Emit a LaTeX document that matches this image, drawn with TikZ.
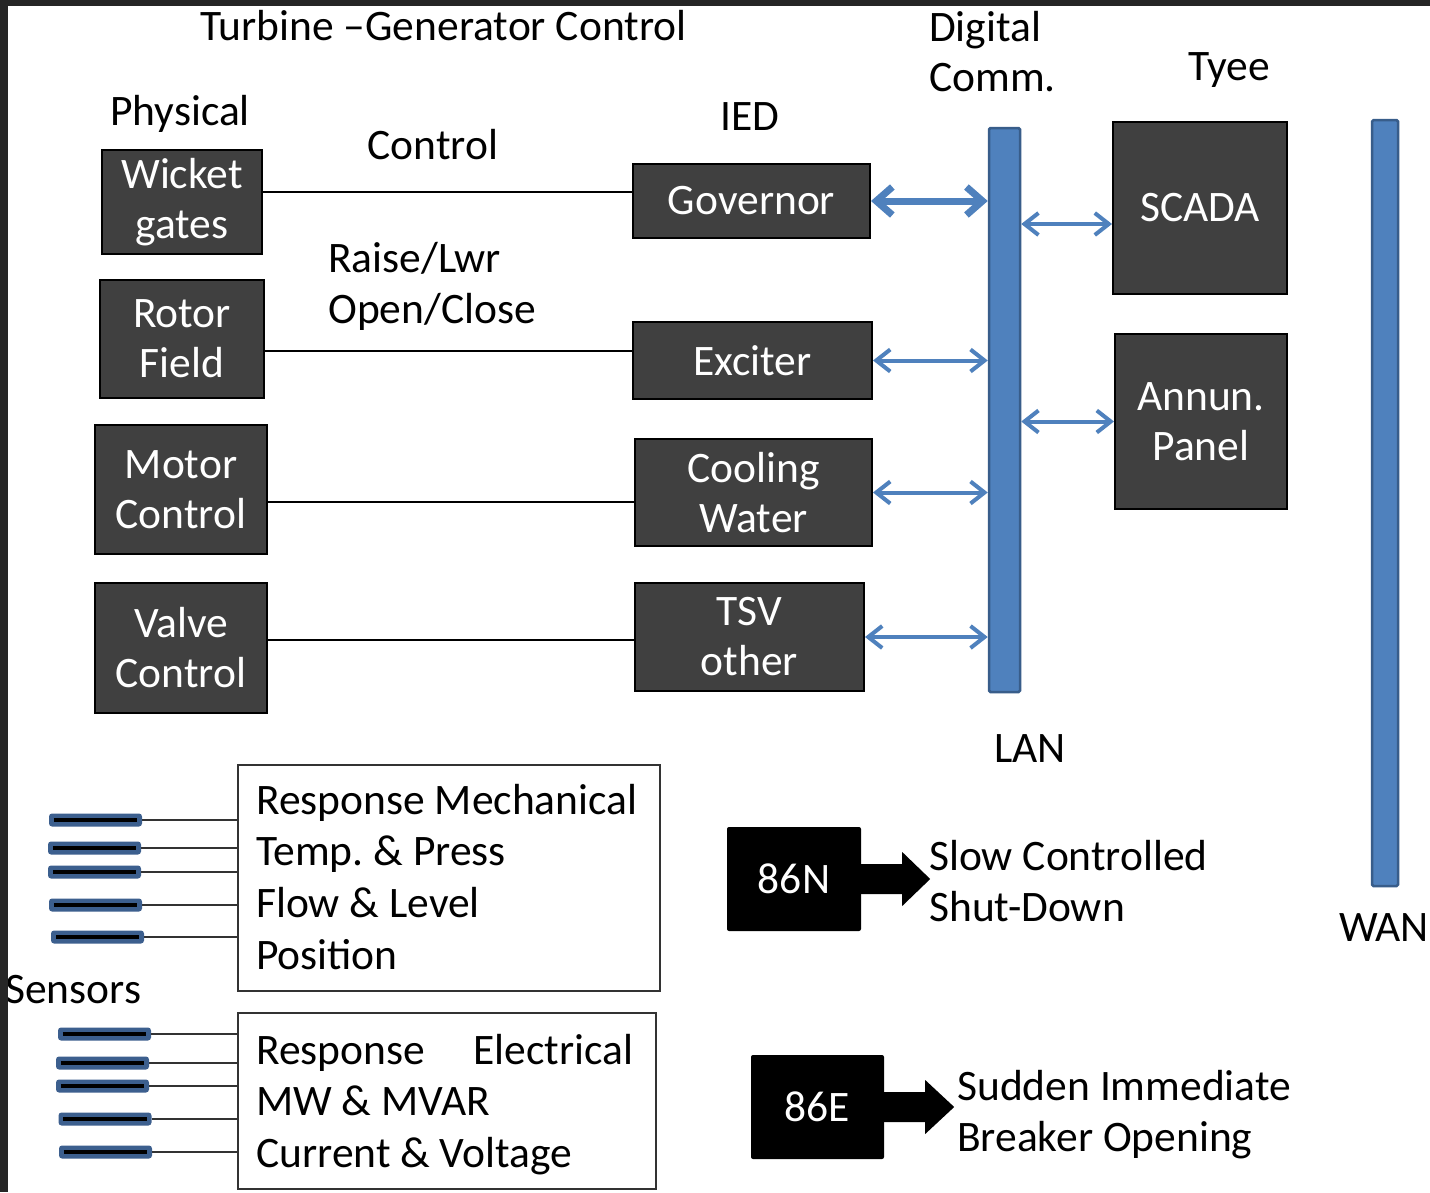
\documentclass[tikz,border=0pt]{standalone}
\usepackage{fontspec}
\setmainfont{Carlito}
\usetikzlibrary{arrows.meta,calc}
\definecolor{boxgray}{HTML}{404040}
\definecolor{lanblue}{HTML}{4F81BD}
\definecolor{lanedge}{HTML}{385D8A}
\definecolor{stickblue}{HTML}{3C5F8E}
\definecolor{framecol}{HTML}{262626}
\definecolor{thinline}{HTML}{333333}
\frenchspacing
\begin{document}
\begin{tikzpicture}[x=1pt,y=-1pt,font=\fontsize{43.5}{50}\selectfont,
  dbox/.style={draw=black, line width=2pt, fill=boxgray, text=white, align=center, inner sep=0pt},
  bus/.style={draw=lanedge, line width=2.5pt, fill=lanblue, rounded corners=1.5pt, inner sep=0pt},
  ctl/.style={line width=2pt, black},
  link/.style={draw=lanblue, line width=4pt, {Straight Barb[length=14pt,width=22pt]}-{Straight Barb[length=14pt,width=22pt]}},
  biglink/.style={draw=lanblue, line width=7pt, {Straight Barb[length=16pt,width=28pt]}-{Straight Barb[length=16pt,width=28pt]}},
  sbox/.style={draw=thinline, line width=1.5pt, inner sep=0pt},
  stick/.style={fill=stickblue, rounded corners=3pt, minimum width=93pt, minimum height=13pt, inner sep=0pt},
  sline/.style={draw=thinline, line width=1.5pt},
  lockout/.style={fill=black, rounded corners=2pt, text=white, inner sep=0pt},
  lbl/.style={inner sep=0pt}
]
\useasboundingbox (0,0) rectangle (1430,1192);
\fill[white] (0,0) rectangle (1430,1192);

% headings
\node[lbl, anchor=base west] (title) at (200,40) {Turbine --Generator Control};
\node[lbl, anchor=base] (phys) at (180,125) {Physical};
\node[lbl, anchor=base] (ctltxt) at (433,159) {Control};
\node[lbl, anchor=base west] (raise) at (328,272) {Raise/Lwr};
\node[lbl, anchor=base west] (open) at (328,323) {Open/Close};
\node[lbl, anchor=base] (ied) at (750,130) {IED};
\node[lbl, anchor=base west] (dig) at (929,41) {Digital};
\node[lbl, anchor=base west] (comm) at (929,91) {Comm.};
\node[lbl, anchor=base] (tyee) at (1229,80) {Tyee};
\node[lbl, anchor=base] (lantxt) at (1030,762) {LAN};
\node[lbl, anchor=base] (wantxt) at (1384,941) {WAN};

% physical boxes
\node[dbox, minimum width=160pt, minimum height=104pt] (wicket) at (182,202) {Wicket\\gates};
\node[dbox, minimum width=164pt, minimum height=118pt] (rotor) at (182,339) {Rotor\\Field};
\node[dbox, minimum width=172pt, minimum height=129pt] (motor) at (181,489.5) {Motor\\Control};
\node[dbox, minimum width=172pt, minimum height=130pt] (valve) at (181,648) {Valve\\Control};

% IED boxes
\node[dbox, minimum width=237pt, minimum height=74pt] (gov) at (751.5,201) {Governor};
\node[dbox, minimum width=239pt, minimum height=77pt] (exc) at (752.5,360.5) {Exciter};
\node[dbox, minimum width=237pt, minimum height=107pt] (cool) at (753.5,492.5) {Cooling\\Water};
\node[dbox, minimum width=229pt, minimum height=108pt] (tsv) at (749.5,637) {TSV\\other};

% Tyee boxes
\node[dbox, minimum width=174pt, minimum height=172pt] (scada) at (1200,208) {SCADA};
\node[dbox, minimum width=172pt, minimum height=175pt] (annun) at (1201,421.5) {Annun.\\Panel};

% buses
\node[bus, minimum width=31pt, minimum height=564pt] (lan) at (1004.5,410) {};
\node[bus, minimum width=26pt, minimum height=766pt] (wan) at (1385,503) {};

% control lines
\draw[ctl] ($(wicket.east)+(0,-10)$) coordinate (c1) -- (c1 -| gov.west);
\draw[ctl] ($(rotor.east)+(0,12)$) coordinate (c2) -- (c2 -| exc.west);
\draw[ctl] ($(motor.east)+(0,12.5)$) coordinate (c3) -- (c3 -| cool.west);
\draw[ctl] ($(valve.east)+(0,-8)$) coordinate (c4) -- (c4 -| tsv.west);

% digital links
\draw[biglink] (gov.east) -- (gov.east -| lan.west);
\draw[link] (exc.east) -- (exc.east -| lan.west);
\draw[link] (cool.east) -- (cool.east -| lan.west);
\draw[link] (tsv.east) -- (tsv.east -| lan.west);
\draw[link] ($(scada.west)+(0,16)$) coordinate (s1) -- (s1 -| lan.east);
\draw[link] (annun.west) -- (annun.west -| lan.east);

% sensor boxes
\node[sbox, minimum width=422pt, minimum height=226pt] (mech) at (449,878) {};
\node[sbox, minimum width=418pt, minimum height=176pt] (elec) at (447,1101) {};
\node[lbl, anchor=base west] (m1t) at (256,814) {Response Mechanical};
\node[lbl, anchor=base west] (m2t) at (256,865) {Temp. \& Press};
\node[lbl, anchor=base west] (m3t) at (256,917) {Flow \& Level};
\node[lbl, anchor=base west] (m4t) at (256,969) {Position};
\node[lbl, anchor=base west] (e1t) at (256,1064) {\makebox[217pt][l]{Response}Electrical};
\node[lbl, anchor=base west] (e2t) at (256,1115) {MW \& MVAR};
\node[lbl, anchor=base west] (e3t) at (256,1167) {Current \& Voltage};
\node[lbl, anchor=base west] (sens) at (5,1003) {Sensors};

% sensor sticks
\foreach \n/\x/\y in {ma/95.5/820, mb/94.5/848, mc/94.5/872, md/95.5/905, me/97.5/937,
                      ea/104.5/1034, eb/102.5/1063, ec/102.5/1086, ed/105/1119, ee/105.5/1152}{
  \node[stick] (\n) at (\x,\y) {};
  \draw[black, line width=4pt] ($(\n.west)+(5,0)$) -- ($(\n.east)+(-5,0)$);
}
\foreach \n in {ma,mb,mc,md,me} \draw[sline] (\n.east) -- (\n.east -| mech.west);
\foreach \n in {ea,eb,ec,ed,ee} \draw[sline] (\n.east) -- (\n.east -| elec.west);

% lockout relays
\node[lockout, minimum width=134pt, minimum height=104pt] (n86) at (794,879) {86N};
\node[lockout, minimum width=133pt, minimum height=104pt] (e86) at (817.5,1107) {86E};
\fill[black] ($(n86.east)+(0,-15)$) -- ++(41,0) -- ++(0,-12) -- ($(n86.east)+(69,0)$)
  -- ($(n86.east)+(41,27)$) -- ++(0,-12) -- ($(n86.east)+(0,15)$) -- cycle;
\fill[black] ($(e86.east)+(0,-15)$) -- ++(41,0) -- ++(0,-12) -- ($(e86.east)+(70,0)$)
  -- ($(e86.east)+(41,27)$) -- ++(0,-12) -- ($(e86.east)+(0,15)$) -- cycle;
\node[lbl, anchor=base west] (slow) at (929,870) {Slow Controlled};
\node[lbl, anchor=base west] (shut) at (929,921) {Shut-Down};
\node[lbl, anchor=base west] (sudden) at (957,1100) {Sudden Immediate};
\node[lbl, anchor=base west] (brk) at (957,1151) {Breaker Opening};

% dark frame edges
\fill[framecol] (0,0) rectangle (1430,6);
\fill[framecol] (0,0) rectangle (8,1192);
\end{tikzpicture}
\end{document}
